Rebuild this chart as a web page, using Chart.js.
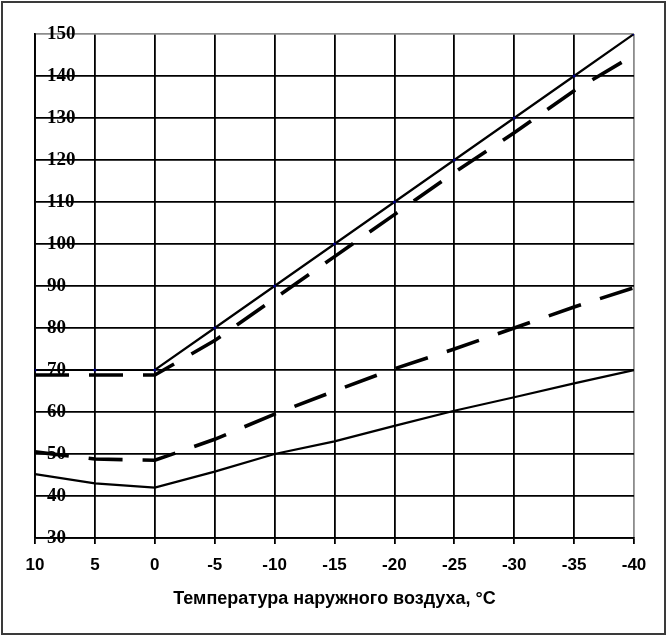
<!DOCTYPE html>
<html>
<head>
<meta charset="utf-8">
<script src="https://cdn.jsdelivr.net/npm/chart.js@4/dist/chart.umd.min.js"></script>
<style>
  html, body { margin: 0; padding: 0; background: #fff; }
  #wrap { position: relative; width: 668px; height: 638px; }
</style>
</head>
<body>
<div id="wrap"><canvas id="chart"></canvas></div>
<script>
// температура наружного воздуха, °C
var temps = [10, 5, 0, -5, -10, -15, -20, -25, -30, -35, -40];
// подающая / обратная, сплошные и штриховые линии
var supplySolid  = [70, 70, 70, 80, 90, 100, 110, 120, 130, 140, 150];
var supplyDashed = [68.8, 68.8, 68.8, 77, 87, 97, 107, 117, 126.5, 136.5, 145];
var returnDashed = [50.5, 48.8, 48.5, 53.5, 59.5, 65, 70.3, 75, 80, 85, 89.6];
var returnSolid  = [45.2, 43, 42, 45.8, 50, 53, 56.7, 60.3, 63.5, 66.8, 70];

var yMin = 30, yMax = 150, yStep = 10;
var xStep = 5;

function pairs(vals){
  return temps.map(function(t, i){ return {x: t, y: vals[i]}; });
}

var frame = {
  id: 'frame',
  afterDraw: function(chart){
    var c = chart.ctx;
    c.save();
    c.strokeStyle = '#3a3a3a';
    c.lineWidth = 2;
    c.strokeRect(2, 2, 663, 632);
    c.restore();
  }
};

var datos = {
  type: 'line',
  data: {
    datasets: [
      {
        data: pairs(supplySolid),
        borderColor: '#000',
        borderWidth: 2.2,
        pointRadius: 1.6,
        pointBorderWidth: 0,
        pointBackgroundColor: '#000080',
        tension: 0
      },
      {
        data: pairs(supplyDashed),
        borderColor: '#000',
        borderWidth: 3.6,
        borderDash: [34, 20],
        pointRadius: 0,
        tension: 0
      },
      {
        data: pairs(returnDashed),
        borderColor: '#000',
        borderWidth: 3.6,
        borderDash: [34, 20],
        pointRadius: 0,
        tension: 0
      },
      {
        data: pairs(returnSolid),
        borderColor: '#000',
        borderWidth: 2.2,
        pointRadius: 0,
        tension: 0
      }
    ]
  },
  options: {
    responsive: true,
    maintainAspectRatio: false,
    animation: false,
    layout: { padding: { left: 11, right: 34, top: 34, bottom: 28 } },
    plugins: { legend: { display: false }, tooltip: { enabled: false } },
    scales: {
      x: {
        type: 'linear',
        reverse: true,
        min: -40,
        max: 10,
        ticks: {
          stepSize: xStep,
          color: '#000',
          padding: 11,
          font: { family: '"Liberation Sans", Arial, sans-serif', size: 17, weight: 'bold' }
        },
        grid: {
          color: function(ctx){ return ctx.tick && ctx.tick.value === -40 ? '#8c8c8c' : '#000'; },
          lineWidth: 1.8,
          tickLength: 6,
          tickColor: '#000'
        },
        border: { color: '#000', width: 1.8 },
        title: {
          display: true,
          text: 'Температура наружного воздуха, °С',
          color: '#000',
          padding: { top: 2, bottom: 0 },
          font: { family: '"Liberation Sans", Arial, sans-serif', size: 18, weight: 'bold' }
        }
      },
      y: {
        min: yMin,
        max: yMax,
        ticks: {
          stepSize: yStep,
          mirror: true,
          padding: 12,
          color: '#000',
          font: { family: '"Liberation Serif", "Times New Roman", serif', size: 19, weight: 'bold' }
        },
        grid: {
          color: function(ctx){ return ctx.tick && ctx.tick.value === 150 ? '#8c8c8c' : '#000'; },
          lineWidth: 1.8,
          drawTicks: false
        },
        border: { color: '#000', width: 1.8 }
      }
    }
  },
  plugins: [frame]
};

var canvas = document.getElementById('chart').getContext('2d');
window.graf = new Chart(canvas, datos);
</script>
</body>
</html>
